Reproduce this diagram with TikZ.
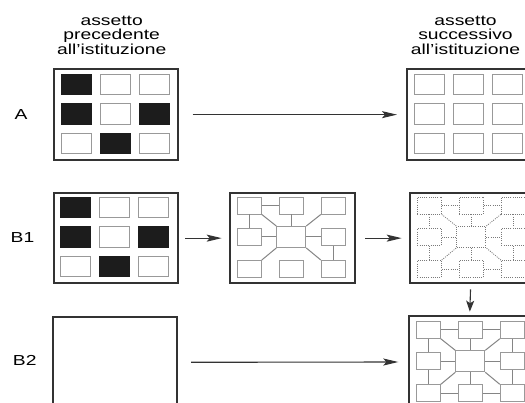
\documentclass[tikz,border=0pt]{standalone}
\usepackage{fontspec}
\setmainfont{Liberation Sans}
\usetikzlibrary{arrows.meta}

\definecolor{frame}{HTML}{333333}
\definecolor{cellgray}{HTML}{999999}
\definecolor{linkgray}{HTML}{858585}
\definecolor{dotgray}{HTML}{7A7A7A}
\definecolor{ink}{HTML}{1C1C1C}

% lettering is set wide
\newcommand{\widetext}[1]{\scalebox{1.33}[1]{#1}}

% nine units of an organisation chart, placed relative to the current scope
\newcommand{\hubnodes}[2]{%
  \node[#2] (#1-tl) at (20,13.5) {};
  \node[#2] (#1-tm) at (62,13.5) {};
  \node[#2] (#1-tr) at (104,13.5) {};
  \node[#2] (#1-ml) at (20,45) {};
  \node[#2, minimum width=29pt, minimum height=21pt] (#1-c) at (62,45) {};
  \node[#2] (#1-mr) at (104,45) {};
  \node[#2] (#1-bl) at (20,77) {};
  \node[#2] (#1-bm) at (62,77) {};
  \node[#2] (#1-br) at (104,77) {};
}

% every unit tied to its neighbours
\newcommand{\fulllinks}[2]{%
  \draw[#2] (#1-tl) -- (#1-tm);
  \draw[#2] (#1-tm) -- (#1-tr);
  \draw[#2] (#1-tl) -- (#1-ml);
  \draw[#2] (#1-tr) -- (#1-mr);
  \draw[#2] (#1-ml) -- (#1-bl);
  \draw[#2] (#1-mr) -- (#1-br);
  \draw[#2] (#1-bl) -- (#1-bm);
  \draw[#2] (#1-bm) -- (#1-br);
  \draw[#2] (#1-tm) -- (#1-c);
  \draw[#2] (#1-ml) -- (#1-c);
  \draw[#2] (#1-c) -- (#1-mr);
  \draw[#2] (#1-c) -- (#1-bm);
  \draw[#2] (#1-tl.south east) -- (#1-c.north west);
  \draw[#2] (#1-tr.south west) -- (#1-c.north east);
  \draw[#2] (#1-bl.north east) -- (#1-c.south west);
  \draw[#2] (#1-br.north west) -- (#1-c.south east);
}

\begin{document}
\begin{tikzpicture}[x=1pt, y=-1pt,
  box/.style={draw=frame, line width=1.8pt, inner sep=0pt, anchor=north west,
    minimum width=124pt, minimum height=90.5pt},
  cell/.style={line width=0.9pt, minimum width=30pt, minimum height=20.5pt, inner sep=0pt},
  unit/.style={draw=cellgray, line width=0.9pt, minimum width=24pt, minimum height=17pt, inner sep=0pt},
  dotunit/.style={unit, draw=dotgray, line width=0.8pt, dash pattern=on 1pt off 1.2pt},
  link/.style={draw=linkgray, line width=1pt},
  dotlink/.style={draw=dotgray, line width=0.8pt, dash pattern=on 1pt off 1.2pt},
  arr/.style={draw=frame, line width=1.1pt, -{Stealth[length=15pt,width=7pt,inset=3pt]}},
  varr/.style={draw=frame, line width=1.1pt, -{Stealth[length=11pt,width=8pt,inset=2.5pt]}},
  lbl/.style={inner sep=0pt, font=\fontsize{14.5}{14.7}\selectfont, text=black}]

\fill[white] (0,0) rectangle (525,403);
\useasboundingbox (0,0) rectangle (525,403);
\clip (0,0) rectangle (525,403);

% column headings
\node[lbl] (headL) at (111.7,37) {\widetext{\begin{tabular}{@{}c@{}}assetto\\precedente\\all’istituzione\end{tabular}}};
\node[lbl] (headR) at (465.5,37) {\widetext{\begin{tabular}{@{}c@{}}assetto\\successivo\\all’istituzione\end{tabular}}};

% row labels
\node[lbl] (labA)  at (21,114.5) {\widetext{A}};
\node[lbl] (labB1) at (22.5,238) {\widetext{B1}};
\node[lbl] (labB2) at (24.7,360) {\widetext{B2}};

% ---- row A ----
\node[box] (boxA) at (53,68.5) {};
\begin{scope}[shift={(53,68.5)}]
  \foreach \r/\c/\f/\d in {1/1/ink/ink,1/2/white/cellgray,1/3/white/cellgray,
                           2/1/ink/ink,2/2/white/cellgray,2/3/ink/ink,
                           3/1/white/cellgray,3/2/ink/ink,3/3/white/cellgray}
    \node[cell, fill=\f, draw=\d] (a-\r\c) at ({23+39*(\c-1)},{16+29.5*(\r-1)}) {};
\end{scope}

\node[box] (boxA2) at (406,68.5) {};
\begin{scope}[shift={(406,68.5)}]
  \foreach \r in {1,2,3}
    \foreach \c in {1,2,3}
      \node[cell, fill=white, draw=cellgray] (a2-\r\c) at ({23+39*(\c-1)},{16+29.5*(\r-1)}) {};
\end{scope}

\draw[arr, shorten <=13.7pt, shorten >=9pt] (boxA) -- (boxA2);

% ---- row B1 ----
\node[box] (boxB) at (52.7,192) {};
\begin{scope}[shift={(52.7,192)}]
  \foreach \r/\c/\f/\d in {1/1/ink/ink,1/2/white/cellgray,1/3/white/cellgray,
                           2/1/ink/ink,2/2/white/cellgray,2/3/ink/ink,
                           3/1/white/cellgray,3/2/ink/ink,3/3/white/cellgray}
    \node[cell, fill=\f, draw=\d] (b-\r\c) at ({23+39*(\c-1)},{15.5+29.5*(\r-1)}) {};
\end{scope}

\node[box, minimum width=125pt] (boxM) at (229.3,192) {};
\begin{scope}[shift={(229.3,192)}]
  \hubnodes{m}{unit}
\end{scope}
\draw[link] (m-tl) -- (m-tm);
\draw[link] (m-tl) -- (m-ml);
\draw[link] (m-tm) -- (m-c);
\draw[link] (m-ml) -- (m-c);
\draw[link] (m-c) -- (m-mr);
\draw[link] (m-mr) -- (m-br);
\draw[link] (m-tl.south east) -- (m-c.north west);
\draw[link] (m-tr.south west) -- (m-c.north east);
\draw[link] (m-bl.north east) -- (m-c.south west);
\draw[link] (m-br.north west) -- (m-c.south east);

\node[box, minimum width=125pt] (boxD) at (409.3,192) {};
\begin{scope}[shift={(409.3,192)}]
  \hubnodes{d}{dotunit}
\end{scope}
\fulllinks{d}{dotlink}

\draw[arr, shorten <=6.6pt, shorten >=7.6pt] (boxB) -- (boxM);
\draw[arr, shorten <=9.3pt, shorten >=7.6pt] (boxM) -- (boxD);

% ---- row B2 ----
\node[box, minimum height=90pt] (boxE) at (52.3,316.5) {};

\node[box, minimum width=125pt, minimum height=92pt] (boxR) at (408.3,315) {};
\begin{scope}[shift={(408.3,316.3)}]
  \hubnodes{r}{unit}
\end{scope}
\fulllinks{r}{link}

\draw[arr, shorten <=13pt, shorten >=10pt] (boxE) -- (boxR);
\draw[varr, shorten <=5pt, shorten >=3.3pt] ([xshift=-2pt]boxD.south) -- ([xshift=-2pt]boxR.north);

\end{tikzpicture}
\end{document}
